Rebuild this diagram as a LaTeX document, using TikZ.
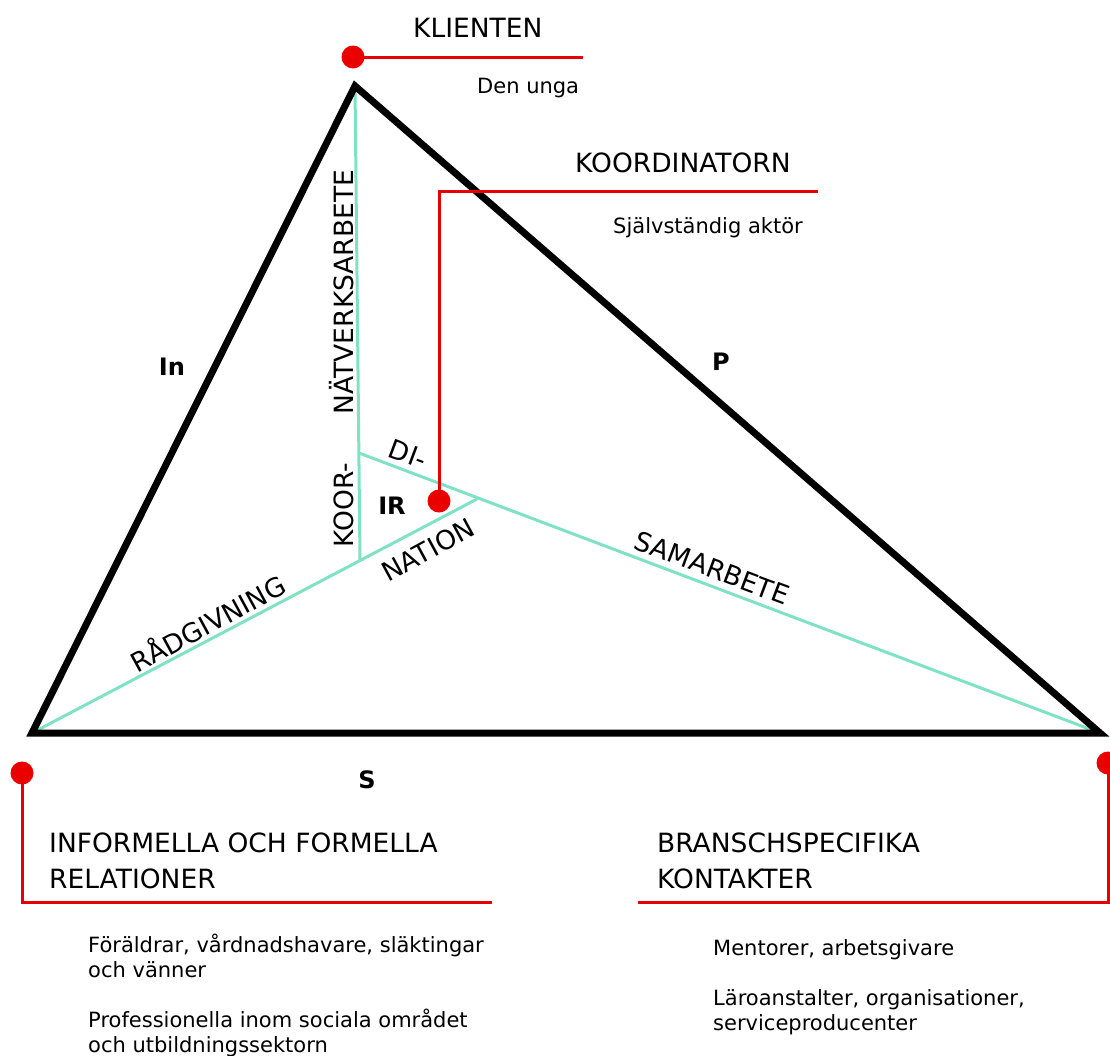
\documentclass[tikz,border=0pt]{standalone}
\usepackage{fontspec}
\setmainfont{DejaVu Sans}
\begin{document}
\begin{tikzpicture}[x=1pt,y=-1pt,
  tri/.style={line width=7pt,line join=miter,black},
  teal/.style={line width=3pt,draw={rgb,255:red,128;green,226;blue,196}},
  redline/.style={line width=3pt,draw={rgb,255:red,230;green,0;blue,0}},
  reddot/.style={circle,fill={rgb,255:red,235;green,0;blue,0},inner sep=0pt,minimum size=23pt},
  big/.style={font=\fontsize{26.5}{36}\selectfont,inner sep=0pt},
  small/.style={font=\fontsize{21}{25}\selectfont,inner sep=0pt},
  lab/.style={font=\fontsize{24}{28}\selectfont\bfseries,inner sep=0pt},
  side/.style={font=\fontsize{26.5}{30}\selectfont,inner sep=0pt}]
\useasboundingbox (0,0) rectangle (1110,1055);
% vertices
\coordinate (A) at (355,86);
\coordinate (B) at (32,733);
\coordinate (C) at (1100,733);
\coordinate (P1) at (360,561);
\coordinate (P2) at (477,499);
\coordinate (P3) at (359,453);
% teal inner lines
\draw[teal] (A) -- (P1);
\draw[teal] (B) -- (P2);
\draw[teal] (C) -- (P3);
% triangle
\draw[tri] (A) -- (B) -- (C) -- cycle;
% labels on teal lines
\node[side,rotate=90] (natv) at (342,292) {NÄTVERKSARBETE};
\node[side,rotate=90] (koor) at (344,505) {KOOR-};
\node[side,rotate=-20.5] (di) at (408,454) {DI-};
\node[side,rotate=28.5] (nation) at (428,550) {NATION};
\node[side,rotate=28.5] (radg) at (207,622) {RÅDGIVNING};
\node[side,rotate=-20.5] (samar) at (712,568) {SAMARBETE};
% side labels
\node[lab] (In) at (172,367) {In};
\node[lab] (P) at (721,362) {P};
\node[lab] (S) at (367,780) {S};
\node[lab] (IR) at (392,506) {IR};
% Klienten
\node[reddot] (kdot) at (353,57) {};
\coordinate (kend) at (583,57);
\draw[redline] (kdot.center) -- (kend);
\node[big,anchor=base west] (klienten) at (413,37) {KLIENTEN};
\node[small,anchor=base west] (denunga) at (477,93) {Den unga};
% Koordinatorn
\node[reddot] (cdot) at (439,501) {};
\coordinate (cend) at (818,191);
\draw[redline] (cdot.center) |- (cend);
\node[big,anchor=base west] (koord) at (575,172) {KOORDINATORN};
\node[small,anchor=base west] (sjalv) at (613,233) {Självständig aktör};
% bottom left
\node[reddot] (ldot) at (22,773) {};
\coordinate (lend) at (492,902);
\draw[redline] (ldot.center) |- (lend);
\node[big,anchor=base west,align=left] (inf) at (49,888) {INFORMELLA OCH FORMELLA\\RELATIONER};
\node[small,anchor=base west,align=left] (for) at (88,977) {Föräldrar, vårdnadshavare, släktingar\\och vänner};
\node[small,anchor=base west,align=left] (prof) at (88,1052) {Professionella inom sociala området\\och utbildningssektorn};
% bottom right
\node[reddot] (rdot) at (1108,763) {};
\coordinate (rend) at (638,902);
\draw[redline] (rdot.center) |- (rend);
\node[big,anchor=base west,align=left] (bran) at (657,888) {BRANSCHSPECIFIKA\\KONTAKTER};
\node[small,anchor=base west] (ment) at (713,955) {Mentorer, arbetsgivare};
\node[small,anchor=base west,align=left] (laro) at (713,1030) {Läroanstalter, organisationer,\\serviceproducenter};
\end{tikzpicture}
\end{document}
